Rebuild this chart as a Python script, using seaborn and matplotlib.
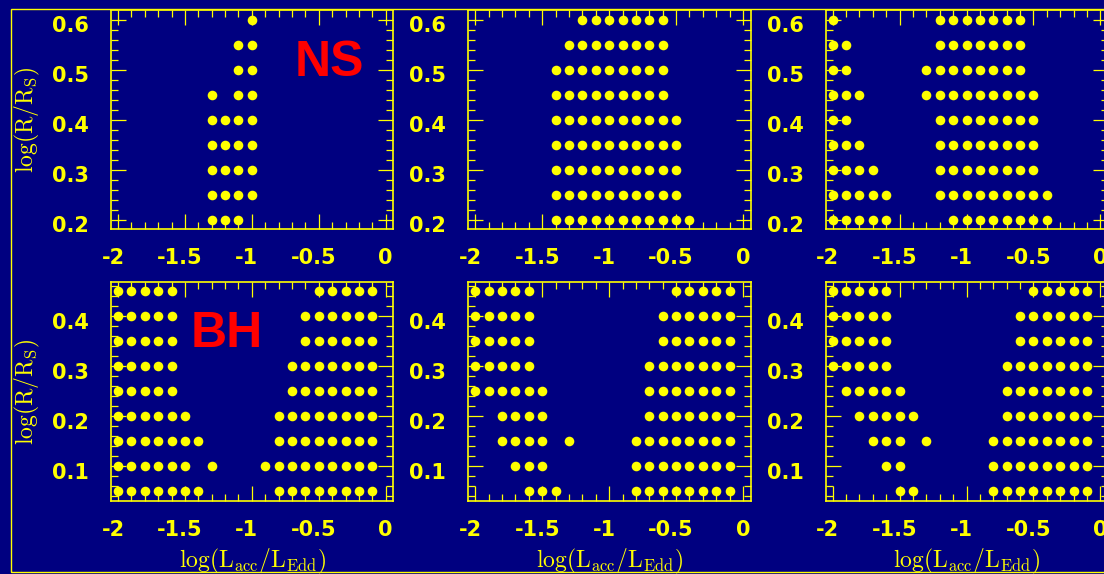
import matplotlib
matplotlib.use("Agg")
import matplotlib.pyplot as plt
import matplotlib.transforms as mtransforms
from matplotlib.patches import Rectangle
from matplotlib.ticker import MultipleLocator
import pandas as pd
import seaborn as sns

NAVY = "#000080"
YELLOW = "#ffff00"
RED = "#ff0000"

# Allowed (log L_acc/L_Edd) grid points for each log(R/R_S) row.
# Neutron-star runs (top row)
ns_run1 = {
    0.60: [-1.0],
    0.55: [-1.1, -1.0],
    0.50: [-1.1, -1.0],
    0.45: [-1.3, -1.1, -1.0],
    0.40: [-1.3, -1.2, -1.1, -1.0],
    0.35: [-1.3, -1.2, -1.1, -1.0],
    0.30: [-1.3, -1.2, -1.1, -1.0],
    0.25: [-1.3, -1.2, -1.1, -1.0],
    0.20: [-1.3, -1.2, -1.1],
}
ns_run2 = {
    0.60: [-1.2, -1.1, -1.0, -0.9, -0.8, -0.7, -0.6],
    0.55: [-1.3, -1.2, -1.1, -1.0, -0.9, -0.8, -0.7, -0.6],
    0.50: [-1.4, -1.3, -1.2, -1.1, -1.0, -0.9, -0.8, -0.7, -0.6],
    0.45: [-1.4, -1.3, -1.2, -1.1, -1.0, -0.9, -0.8, -0.7, -0.6],
    0.40: [-1.4, -1.3, -1.2, -1.1, -1.0, -0.9, -0.8, -0.7, -0.6, -0.5],
    0.35: [-1.4, -1.3, -1.2, -1.1, -1.0, -0.9, -0.8, -0.7, -0.6, -0.5],
    0.30: [-1.4, -1.3, -1.2, -1.1, -1.0, -0.9, -0.8, -0.7, -0.6, -0.5],
    0.25: [-1.4, -1.3, -1.2, -1.1, -1.0, -0.9, -0.8, -0.7, -0.6, -0.5],
    0.20: [-1.4, -1.3, -1.2, -1.1, -1.0, -0.9, -0.8, -0.7, -0.6, -0.5, -0.4],
}
ns_run3 = {
    0.60: [-2.0, -1.2, -1.1, -1.0, -0.9, -0.8, -0.7, -0.6],
    0.55: [-2.0, -1.9, -1.2, -1.1, -1.0, -0.9, -0.8, -0.7, -0.6],
    0.50: [-2.0, -1.9, -1.3, -1.2, -1.1, -1.0, -0.9, -0.8, -0.7, -0.6],
    0.45: [-2.0, -1.9, -1.8, -1.3, -1.2, -1.1, -1.0, -0.9, -0.8, -0.7, -0.6, -0.5],
    0.40: [-2.0, -1.9, -1.2, -1.1, -1.0, -0.9, -0.8, -0.7, -0.6, -0.5],
    0.35: [-2.0, -1.9, -1.8, -1.2, -1.1, -1.0, -0.9, -0.8, -0.7, -0.6, -0.5],
    0.30: [-2.0, -1.9, -1.8, -1.7, -1.2, -1.1, -1.0, -0.9, -0.8, -0.7, -0.6, -0.5],
    0.25: [-2.0, -1.9, -1.8, -1.7, -1.6, -1.2, -1.1, -1.0, -0.9, -0.8, -0.7, -0.6, -0.5, -0.4],
    0.20: [-2.0, -1.9, -1.8, -1.7, -1.6, -1.1, -1.0, -0.9, -0.8, -0.7, -0.6, -0.5, -0.4],
}

# Black-hole runs (bottom row)
bh_run1 = {
    0.45: [-2.0, -1.9, -1.8, -1.7, -1.6, -0.5, -0.4, -0.3, -0.2, -0.1],
    0.40: [-2.0, -1.9, -1.8, -1.7, -1.6, -0.6, -0.5, -0.4, -0.3, -0.2, -0.1],
    0.35: [-2.0, -1.9, -1.8, -1.7, -1.6, -0.6, -0.5, -0.4, -0.3, -0.2, -0.1],
    0.30: [-2.0, -1.9, -1.8, -1.7, -1.6, -0.7, -0.6, -0.5, -0.4, -0.3, -0.2, -0.1],
    0.25: [-2.0, -1.9, -1.8, -1.7, -1.6, -0.7, -0.6, -0.5, -0.4, -0.3, -0.2, -0.1],
    0.20: [-2.0, -1.9, -1.8, -1.7, -1.6, -1.5, -0.8, -0.7, -0.6, -0.5, -0.4, -0.3, -0.2, -0.1],
    0.15: [-2.0, -1.9, -1.8, -1.7, -1.6, -1.5, -1.4, -0.8, -0.7, -0.6, -0.5, -0.4, -0.3, -0.2, -0.1],
    0.10: [-2.0, -1.9, -1.8, -1.7, -1.6, -1.5, -1.3, -0.9, -0.8, -0.7, -0.6, -0.5, -0.4, -0.3, -0.2, -0.1],
    0.05: [-2.0, -1.9, -1.8, -1.7, -1.6, -1.5, -1.4, -0.8, -0.7, -0.6, -0.5, -0.4, -0.3, -0.2, -0.1],
}
bh_run2 = {
    0.45: [-2.0, -1.9, -1.8, -1.7, -1.6, -0.5, -0.4, -0.3, -0.2, -0.1],
    0.40: [-2.0, -1.9, -1.8, -1.7, -1.6, -0.6, -0.5, -0.4, -0.3, -0.2, -0.1],
    0.35: [-2.0, -1.9, -1.8, -1.7, -1.6, -0.6, -0.5, -0.4, -0.3, -0.2, -0.1],
    0.30: [-2.0, -1.9, -1.8, -1.7, -1.6, -0.7, -0.6, -0.5, -0.4, -0.3, -0.2, -0.1],
    0.25: [-2.0, -1.9, -1.8, -1.7, -1.6, -1.5, -0.7, -0.6, -0.5, -0.4, -0.3, -0.2, -0.1],
    0.20: [-1.8, -1.7, -1.6, -1.5, -0.7, -0.6, -0.5, -0.4, -0.3, -0.2, -0.1],
    0.15: [-1.8, -1.7, -1.6, -1.5, -1.3, -0.8, -0.7, -0.6, -0.5, -0.4, -0.3, -0.2, -0.1],
    0.10: [-1.7, -1.6, -1.5, -0.8, -0.7, -0.6, -0.5, -0.4, -0.3, -0.2, -0.1],
    0.05: [-1.6, -1.5, -1.4, -0.8, -0.7, -0.6, -0.5, -0.4, -0.3, -0.2, -0.1],
}
bh_run3 = {
    0.45: [-2.0, -1.9, -1.8, -1.7, -1.6, -0.5, -0.4, -0.3, -0.2, -0.1],
    0.40: [-2.0, -1.9, -1.8, -1.7, -1.6, -0.6, -0.5, -0.4, -0.3, -0.2, -0.1],
    0.35: [-2.0, -1.9, -1.8, -1.7, -1.6, -0.6, -0.5, -0.4, -0.3, -0.2, -0.1],
    0.30: [-2.0, -1.9, -1.8, -1.7, -1.6, -0.7, -0.6, -0.5, -0.4, -0.3, -0.2, -0.1],
    0.25: [-1.9, -1.8, -1.7, -1.6, -1.5, -0.7, -0.6, -0.5, -0.4, -0.3, -0.2, -0.1],
    0.20: [-1.8, -1.7, -1.6, -1.5, -1.4, -0.7, -0.6, -0.5, -0.4, -0.3, -0.2, -0.1],
    0.15: [-1.7, -1.6, -1.5, -1.3, -0.8, -0.7, -0.6, -0.5, -0.4, -0.3, -0.2, -0.1],
    0.10: [-1.6, -1.5, -0.8, -0.7, -0.6, -0.5, -0.4, -0.3, -0.2, -0.1],
    0.05: [-1.5, -1.4, -0.8, -0.7, -0.6, -0.5, -0.4, -0.3, -0.2, -0.1],
}

x_ticks = [-2, -1.5, -1, -0.5, 0]
x_tick_labels = ["-2", "-1.5", "-1", "-0.5", "0"]
ns_y_ticks = [0.2, 0.3, 0.4, 0.5, 0.6]
ns_y_tick_labels = ["0.2", "0.3", "0.4", "0.5", "0.6"]
bh_y_ticks = [0.1, 0.2, 0.3, 0.4]
bh_y_tick_labels = ["0.1", "0.2", "0.3", "0.4"]
panel_tags = {"NS": (-0.42, 0.488), "BH": (-1.185, 0.338)}


def to_frame(run):
    rows = [(x, y) for y, xs in run.items() for x in xs]
    return pd.DataFrame(rows, columns=["log_L", "log_R"])


sns.set_theme(style="ticks")
plt.rcParams.update({
    "font.family": ["DejaVu Sans"],
    "mathtext.fontset": "cm",
    "axes.unicode_minus": False,
    "figure.facecolor": NAVY,
    "axes.facecolor": NAVY,
    "savefig.facecolor": NAVY,
})

W, H = 1104, 574
fig = plt.figure(figsize=(W / 100, H / 100), dpi=100)

col_left = [111.0, 468.3, 825.7]
row_top = [10.0, 281.7]
ax_w, ax_h = 282.3, 219.2

rows_cfg = [
    dict(runs=[ns_run1, ns_run2, ns_run3], ylim=(0.181, 0.619),
         yt=ns_y_ticks, ytl=ns_y_tick_labels, tag="NS", xlabel=False),
    dict(runs=[bh_run1, bh_run2, bh_run3], ylim=(0.0305, 0.4695),
         yt=bh_y_ticks, ytl=bh_y_tick_labels, tag="BH", xlabel=True),
]

shift_down = mtransforms.ScaledTranslation(0, -4.5 / 100, fig.dpi_scale_trans)
shift_left = mtransforms.ScaledTranslation(-5 / 100, 0, fig.dpi_scale_trans)

for r, cfg in enumerate(rows_cfg):
    for c, run in enumerate(cfg["runs"]):
        left = col_left[c] / W
        bottom = 1 - (row_top[r] + ax_h) / H
        ax = fig.add_axes([left, bottom, ax_w / W, ax_h / H])
        ax.set_facecolor(NAVY)
        sns.scatterplot(data=to_frame(run), x="log_L", y="log_R", ax=ax,
                        color=YELLOW, s=48, linewidth=0, legend=False,
                        zorder=3, clip_on=False)
        ax.set_xlim(-2.052, 0.057)
        ax.set_ylim(*cfg["ylim"])
        ax.set_xticks(x_ticks, x_tick_labels)
        ax.set_yticks(cfg["yt"], cfg["ytl"])
        ax.xaxis.set_minor_locator(MultipleLocator(0.1))
        ax.yaxis.set_minor_locator(MultipleLocator(0.02))
        ax.tick_params(which="both", direction="in", top=True, right=True,
                       color=YELLOW, width=0.9, labelcolor=YELLOW)
        ax.tick_params(which="major", length=10.8)
        ax.tick_params(which="minor", length=5)
        ax.tick_params(axis="y", pad=15.8)
        ax.tick_params(axis="x", pad=13.5)
        for lab in ax.get_xticklabels() + ax.get_yticklabels():
            lab.set_fontsize(15)
            lab.set_fontweight("bold")
        for lab in ax.get_yticklabels():
            lab.set_transform(lab.get_transform() + shift_down)
        for lab in ax.get_xticklabels():
            if lab.get_text().startswith("-"):
                lab.set_transform(lab.get_transform() + shift_left)
        for sp in ax.spines.values():
            sp.set_color(YELLOW)
            sp.set_linewidth(1.2)

        if c == 0:
            ax.set_ylabel(r"$\mathrm{log(R/R_S)}$", color=YELLOW, fontsize=17)
            ax.yaxis.set_label_coords(-0.245, 0.5)
            tx, ty = panel_tags[cfg["tag"]]
            ax.text(tx, ty, cfg["tag"], color=RED, fontsize=36,
                    fontweight="bold", family="Liberation Sans",
                    ha="center", va="baseline", zorder=4)
        else:
            ax.set_ylabel("")
        if cfg["xlabel"]:
            ax.set_xlabel(r"$\mathrm{log(L_{acc}/L_{Edd})}$", color=YELLOW,
                          fontsize=17)
            ax.xaxis.set_label_coords(0.5, -0.21)
        else:
            ax.set_xlabel("")

# thin frame around the whole plotting page
fig.add_artist(Rectangle((11 / W, 2 / H), 1.2, (572 - 9.3) / H,
                         transform=fig.transFigure, fill=False,
                         edgecolor=YELLOW, linewidth=1.0))

fig.savefig("out.png", dpi=100, facecolor=NAVY)
